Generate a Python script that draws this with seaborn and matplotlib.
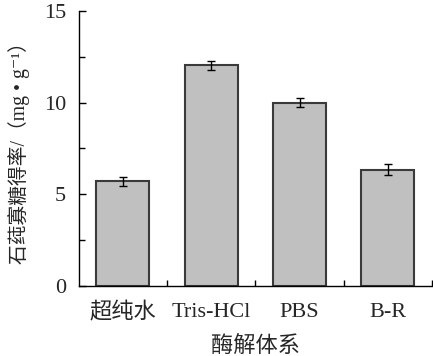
import matplotlib
matplotlib.use('Agg')
import matplotlib.pyplot as plt
import numpy as np
import pandas as pd
import seaborn as sns
from matplotlib.ticker import MultipleLocator, FixedLocator

systems = ['超纯水', 'Tris-HCl', 'PBS', 'B-R']
yields = [5.7, 12.05, 10.0, 6.35]
errs = [0.25, 0.25, 0.25, 0.28]

sns.set_style('ticks')
plt.rcParams['font.family'] = ['Liberation Serif', 'Noto Sans CJK SC', 'DejaVu Sans']

df = pd.DataFrame({'system': systems, 'yield': yields})

fig = plt.figure(figsize=(4.33, 3.56), dpi=100)
ax = fig.add_axes([0.182, 0.197, 0.816, 0.772])

sns.barplot(data=df, x='system', y='yield', color='#c0c0c0', saturation=1,
            edgecolor='#3a3a3a', linewidth=1.5, width=0.6, errorbar=None, ax=ax)
ax.errorbar(np.arange(len(systems)), yields, yerr=errs, fmt='none',
            ecolor='black', elinewidth=1, capsize=3, capthick=1)

ax.set_xlim(-0.5, 3.5)
ax.set_ylim(0, 15)
ax.yaxis.set_major_locator(MultipleLocator(5))
ax.yaxis.set_minor_locator(MultipleLocator(2.5))
ax.xaxis.set_minor_locator(FixedLocator([0.5, 1.5, 2.5, 3.5]))
ax.tick_params(axis='both', which='both', direction='in', color='black', width=1)
ax.tick_params(axis='both', which='major', length=5, labelsize=16)
ax.tick_params(axis='x', which='major', pad=12)
ax.tick_params(axis='y', which='major', pad=9)
ax.tick_params(axis='both', which='minor', length=4)

for s in ['top', 'right']:
    ax.spines[s].set_visible(False)
for s in ['left', 'bottom']:
    ax.spines[s].set_color('black')
    ax.spines[s].set_linewidth(1)

ax.set_xlabel('酶解体系', fontsize=16, labelpad=9)
ax.set_ylabel('石莼寡糖得率/（mg • g⁻¹）', fontsize=14.2, labelpad=10)

fig.savefig('out.png', dpi=100)
